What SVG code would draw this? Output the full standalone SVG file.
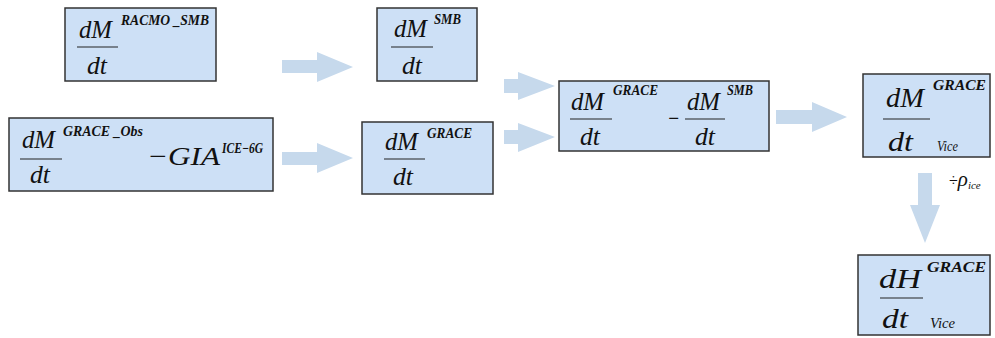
<svg xmlns="http://www.w3.org/2000/svg" width="995" height="338" viewBox="0 0 995 338">
<style>
.box{fill:#cde0f6;stroke:#333;stroke-width:1.5}
.bar{stroke:#222;stroke-width:1.2}
.m{font-family:"Liberation Serif","Times New Roman",serif;font-style:italic;font-size:26px;fill:#111}
.b{font-size:28px}
.s{font-family:"Liberation Serif","Times New Roman",serif;font-style:italic;font-weight:bold;font-size:14px;fill:#111}
.v{font-family:"Liberation Serif","Times New Roman",serif;font-style:italic;font-size:15px;fill:#111}
.arr{fill:#c6d9ec}
</style>
<rect width="995" height="338" fill="#fff"/>
<g id="connectors">
<polygon class="arr" points="282,60 317,60 317,52 353,67 317,82 317,73 282,73"/>
<polygon class="arr" points="282,152 317,152 317,143 353,158 317,173 317,165 282,165"/>
<polygon class="arr" points="504,79 518,79 518,72 555,86 518,100 518,93 504,93"/>
<polygon class="arr" points="504,130 518,130 518,123 555,137 518,152 518,144 504,144"/>
<polygon class="arr" points="776,110 812,110 812,102 847,117 812,132 812,124 776,124"/>
<polygon class="arr" points="918,173 932,173 932,205 940,205 925,243 910,205 918,205"/>
<g id="label-rho">
<text x="949" y="186" font-family="Liberation Serif, serif" font-size="16" fill="#111">÷<tspan font-style="italic" font-size="21">ρ</tspan><tspan font-style="italic" font-size="11" dy="3">ice</tspan></text>
</g>
</g>
<g id="n1">
<rect class="box" x="65" y="8" width="151" height="73"/>
<text class="m" x="79" y="38" textLength="33" lengthAdjust="spacingAndGlyphs">dM</text>
<line class="bar" x1="77" y1="47" x2="118" y2="47"/>
<text class="m" x="87" y="74" textLength="20" lengthAdjust="spacingAndGlyphs">dt</text>
<text class="s" x="121" y="25" textLength="88" lengthAdjust="spacingAndGlyphs">RACMO _SMB</text>
</g>
<g id="n2">
<rect class="box" x="377" y="8" width="100" height="73"/>
<text class="m" x="394" y="37" textLength="33" lengthAdjust="spacingAndGlyphs">dM</text>
<line class="bar" x1="391" y1="47" x2="433" y2="47"/>
<text class="m" x="402" y="74" textLength="20" lengthAdjust="spacingAndGlyphs">dt</text>
<text class="s" x="434" y="24" textLength="27" lengthAdjust="spacingAndGlyphs">SMB</text>
</g>
<g id="n3">
<rect class="box" x="9" y="118" width="264" height="73"/>
<text class="m" x="22" y="148" textLength="33" lengthAdjust="spacingAndGlyphs">dM</text>
<line class="bar" x1="20" y1="159" x2="62" y2="159"/>
<text class="m" x="30" y="183" textLength="20" lengthAdjust="spacingAndGlyphs">dt</text>
<text class="s" x="63" y="136" textLength="80" lengthAdjust="spacingAndGlyphs">GRACE _Obs</text>
<text class="m" x="147" y="165" font-size="32" textLength="73" lengthAdjust="spacingAndGlyphs">−GIA</text>
<text class="s" x="222" y="153" font-size="16" textLength="41" lengthAdjust="spacingAndGlyphs">ICE−6G</text>
</g>
<g id="n4">
<rect class="box" x="362" y="122" width="131" height="72"/>
<text class="m" x="385" y="150" textLength="33" lengthAdjust="spacingAndGlyphs">dM</text>
<line class="bar" x1="384" y1="159" x2="425" y2="159"/>
<text class="m" x="393" y="185" textLength="20" lengthAdjust="spacingAndGlyphs">dt</text>
<text class="s" x="427" y="138" textLength="45" lengthAdjust="spacingAndGlyphs">GRACE</text>
</g>
<g id="n5">
<rect class="box" x="559" y="81" width="210" height="70"/>
<text class="m" x="571" y="110" textLength="33" lengthAdjust="spacingAndGlyphs">dM</text>
<line class="bar" x1="570" y1="119" x2="612" y2="119"/>
<text class="m" x="580" y="145" textLength="20" lengthAdjust="spacingAndGlyphs">dt</text>
<text class="s" x="613" y="95" textLength="45" lengthAdjust="spacingAndGlyphs">GRACE</text>
<text class="m" x="667" y="127" textLength="13" lengthAdjust="spacingAndGlyphs">−</text>
<text class="m" x="687" y="110" textLength="33" lengthAdjust="spacingAndGlyphs">dM</text>
<line class="bar" x1="685" y1="119" x2="725" y2="119"/>
<text class="m" x="695" y="145" textLength="20" lengthAdjust="spacingAndGlyphs">dt</text>
<text class="s" x="727" y="95" textLength="26" lengthAdjust="spacingAndGlyphs">SMB</text>
</g>
<g id="n6">
<rect class="box" x="863" y="74" width="127" height="83"/>
<text class="m b" x="886" y="107" textLength="38" lengthAdjust="spacingAndGlyphs">dM</text>
<line class="bar" x1="883" y1="119" x2="930" y2="119"/>
<text class="m b" x="888" y="151" textLength="25" lengthAdjust="spacingAndGlyphs">dt</text>
<text class="v" x="937" y="151" textLength="21" lengthAdjust="spacingAndGlyphs">Vice</text>
<text class="s" x="933" y="90" font-size="15" textLength="53" lengthAdjust="spacingAndGlyphs">GRACE</text>
</g>
<g id="n7">
<rect class="box" x="858" y="255" width="132" height="80"/>
<text class="m b" x="879" y="288" textLength="42" lengthAdjust="spacingAndGlyphs">dH</text>
<line class="bar" x1="880" y1="298" x2="923" y2="298"/>
<text class="m b" x="882" y="328" textLength="26" lengthAdjust="spacingAndGlyphs">dt</text>
<text class="v" x="930" y="328" textLength="25" lengthAdjust="spacingAndGlyphs">Vice</text>
<text class="s" x="927" y="272" font-size="15" textLength="59" lengthAdjust="spacingAndGlyphs">GRACE</text>
</g>
</svg>
